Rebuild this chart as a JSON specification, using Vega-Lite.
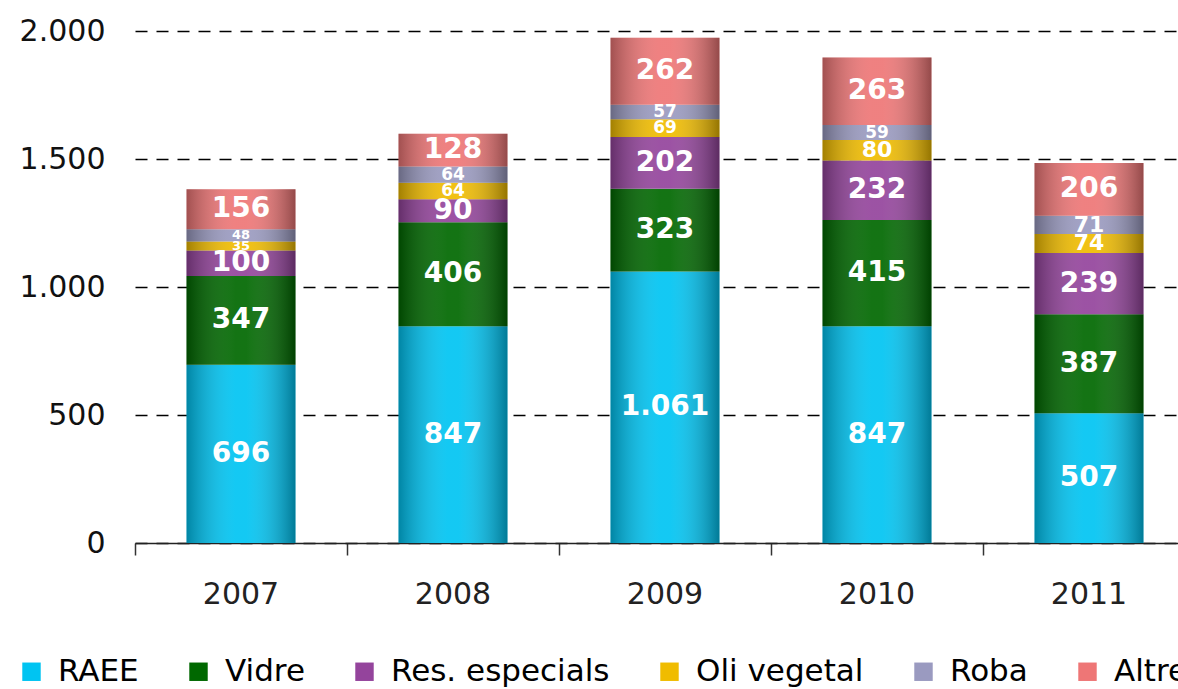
{
  "$schema": "https://vega.github.io/schema/vega-lite/v6.json",
  "autosize": "none",
  "width": 1060,
  "height": 512,
  "padding": {"left": 135, "top": 31, "right": 0, "bottom": 146},
  "background": "white",
  "config": {
    "locale": {"number": {"decimal": ",", "thousands": ".", "grouping": [3], "currency": ["", " €"]}},
    "view": {"stroke": null},
    "font": "DejaVu Sans"
  },
  "data": {
    "values": [
      {"any": "2007", "tipus": "RAEE", "valor": 696},
      {"any": "2007", "tipus": "Vidre", "valor": 347},
      {"any": "2007", "tipus": "Res. especials", "valor": 100},
      {"any": "2007", "tipus": "Oli vegetal", "valor": 35},
      {"any": "2007", "tipus": "Roba", "valor": 48},
      {"any": "2007", "tipus": "Altres", "valor": 156},
      {"any": "2008", "tipus": "RAEE", "valor": 847},
      {"any": "2008", "tipus": "Vidre", "valor": 406},
      {"any": "2008", "tipus": "Res. especials", "valor": 90},
      {"any": "2008", "tipus": "Oli vegetal", "valor": 64},
      {"any": "2008", "tipus": "Roba", "valor": 64},
      {"any": "2008", "tipus": "Altres", "valor": 128},
      {"any": "2009", "tipus": "RAEE", "valor": 1061},
      {"any": "2009", "tipus": "Vidre", "valor": 323},
      {"any": "2009", "tipus": "Res. especials", "valor": 202},
      {"any": "2009", "tipus": "Oli vegetal", "valor": 69},
      {"any": "2009", "tipus": "Roba", "valor": 57},
      {"any": "2009", "tipus": "Altres", "valor": 262},
      {"any": "2010", "tipus": "RAEE", "valor": 847},
      {"any": "2010", "tipus": "Vidre", "valor": 415},
      {"any": "2010", "tipus": "Res. especials", "valor": 232},
      {"any": "2010", "tipus": "Oli vegetal", "valor": 80},
      {"any": "2010", "tipus": "Roba", "valor": 59},
      {"any": "2010", "tipus": "Altres", "valor": 263},
      {"any": "2011", "tipus": "RAEE", "valor": 507},
      {"any": "2011", "tipus": "Vidre", "valor": 387},
      {"any": "2011", "tipus": "Res. especials", "valor": 239},
      {"any": "2011", "tipus": "Oli vegetal", "valor": 74},
      {"any": "2011", "tipus": "Roba", "valor": 71},
      {"any": "2011", "tipus": "Altres", "valor": 206}
    ]
  },
  "transform": [
    {"calculate": "indexof(['RAEE','Vidre','Res. especials','Oli vegetal','Roba','Altres'], datum.tipus)", "as": "ord"},
    {"stack": "valor", "groupby": ["any"], "sort": [{"field": "ord", "order": "ascending"}], "as": ["y0", "y1"]},
    {"calculate": "(datum.y0 + datum.y1) / 2", "as": "ymid"}
  ],
  "encoding": {
    "x": {
      "field": "any", "type": "nominal", "title": null,
      "scale": {"paddingInner": 0, "paddingOuter": 0},
      "axis": {
        "labelAngle": 0, "labelFontSize": 30, "labelColor": "#222", "labelPadding": 24,
        "domainColor": "#222", "domainWidth": 1.5, "tickColor": "#333", "tickSize": 12, "tickWidth": 1.5,
        "bandPosition": 0, "labelBound": false
      }
    }
  },
  "layer": [
    {
      "mark": {"type": "bar", "width": {"band": 0.514}},
      "encoding": {
        "y": {
          "field": "y0", "type": "quantitative", "title": null,
          "scale": {"domain": [0, 2000], "nice": false},
          "axis": {
            "values": [0, 500, 1000, 1500, 2000], "format": ",d",
            "labelFontSize": 30, "labelColor": "#111", "labelPadding": 30,
            "domain": false, "ticks": false,
            "grid": true, "gridColor": "#000", "gridDash": [12, 9], "gridWidth": 1.5
          }
        },
        "y2": {"field": "y1"},
        "color": {
          "field": "tipus", "type": "nominal",
          "scale": {
            "domain": ["RAEE", "Vidre", "Res. especials", "Oli vegetal", "Roba", "Altres"],
            "range": ["#00C4F2", "#006800", "#94449C", "#F0BC00", "#9A9AC0", "#EE7676"]
          },
          "legend": {
            "title": null, "orient": "none", "direction": "horizontal", "columns": 6,
            "legendX": -119, "legendY": 625,
            "symbolType": "square", "symbolSize": 340, "symbolStrokeWidth": 0,
            "labelFontSize": 31, "labelColor": "#000", "labelOffset": 11,
            "columnPadding": 44, "labelLimit": 400
          }
        }
      }
    },
    {
      "mark": {
        "type": "bar",
        "width": {"band": 0.514},
        "fill": {
          "x1": 0, "y1": 0, "x2": 1, "y2": 0, "gradient": "linear",
          "stops": [
            {"offset": 0, "color": "rgba(0,0,0,0.32)"},
            {"offset": 0.45, "color": "rgba(255,255,255,0.08)"},
            {"offset": 0.55, "color": "rgba(255,255,255,0.08)"},
            {"offset": 1, "color": "rgba(0,0,0,0.38)"}
          ]
        }
      },
      "encoding": {
        "y": {"field": "y0", "type": "quantitative"},
        "y2": {"field": "y1"}
      }
    },
    {
      "mark": {"type": "text", "color": "white", "fontWeight": "bold", "baseline": "middle", "align": "center"},
      "encoding": {
        "y": {"field": "ymid", "type": "quantitative"},
        "text": {"field": "valor", "type": "quantitative", "format": ",d"},
        "size": {
          "field": "valor", "type": "quantitative",
          "scale": {"type": "threshold", "domain": [50, 70, 85], "range": [13, 17, 22, 28]},
          "legend": null
        }
      }
    }
  ]
}
